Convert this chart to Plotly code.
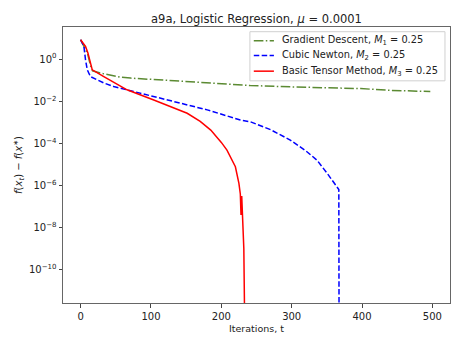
import plotly.graph_objects as go

# Gradient Descent
gd_t = [0, 5, 10, 14, 17, 30, 40, 57, 71, 114, 175, 241, 300, 398, 440, 497]
gd_f = [8.3, 4.0, 1.8, 0.5, 0.28, 0.21, 0.175, 0.138, 0.126, 0.102, 0.079, 0.056, 0.048, 0.040, 0.033, 0.029]

# Cubic Newton
cn_t = [0, 4.7, 7, 9.5, 14, 23.7, 33, 47, 66, 104, 139, 180, 227, 241, 270, 298, 320, 336, 350, 365, 367, 367.5]
cn_f = [8.3, 4.0, 0.93, 0.31, 0.148, 0.102, 0.074, 0.050, 0.035, 0.0166, 0.0085, 0.0039, 0.00129, 0.00107,
        4.5e-4, 1.45e-4, 4.5e-5, 1.6e-5, 4.0e-6, 8.5e-7, 6.5e-7, 1e-16]

# Basic Tensor Method
bt_t = [0, 3, 7, 10.4, 14.2, 16.6, 33, 66, 104, 139, 151.5, 170, 185, 200, 208, 220, 225, 227, 228, 229, 230, 231, 232, 233, 234]
bt_f = [8.3, 6.3, 4.0, 1.95, 0.65, 0.31, 0.148, 0.035, 0.0115, 0.0039, 0.0027, 0.00112, 4.3e-4, 1.12e-4,
        4.8e-5, 7.8e-6, 1.26e-6, 4.0e-7, 4.0e-8, 3.2e-7, 5.0e-8, 2.5e-8, 1e-9, 1e-12, 1e-16]

series_names = ["Gradient Descent, <i>M</i><sub>1</sub> = 0.25",
                "Cubic Newton, <i>M</i><sub>2</sub> = 0.25",
                "Basic Tensor Method, <i>M</i><sub>3</sub> = 0.25"]
series_colors = ["#5b8a32", "#0000ff", "#ff0000"]
series_dash = ["9.6px,2.4px,1.5px,2.4px", "5.5px,2.4px", "solid"]

ytick_vals = [1, 1e-2, 1e-4, 1e-6, 1e-8, 1e-10]
ytick_text = ["10<sup>0</sup>", "10<sup>−2</sup>", "10<sup>−4</sup>", "10<sup>−6</sup>", "10<sup>−8</sup>", "10<sup>−10</sup>"]
xtick_vals = [0, 100, 200, 300, 400, 500]

fig = go.Figure()
for (xs, ys), name, col, dash in zip([(gd_t, gd_f), (cn_t, cn_f), (bt_t, bt_f)], series_names, series_colors, series_dash):
    fig.add_trace(go.Scatter(x=xs, y=ys, mode="lines", name=name,
                             line=dict(color=col, width=1.5, dash=dash)))

font = "DejaVu Sans"

# custom legend (compact, matplotlib-like spacing)
shapes = [dict(type="rect", xref="paper", yref="paper", x0=0.483, x1=0.987, y0=0.805, y1=0.983,
               line=dict(color="#d0d0d0", width=1), fillcolor="rgba(255,255,255,0.85)", layer="above")]
annotations = []
rows_y = [0.950, 0.897, 0.840]
for ry, name, col, dash in zip(rows_y, series_names, series_colors, series_dash):
    shapes.append(dict(type="line", xref="paper", yref="paper", x0=0.493, x1=0.545, y0=ry, y1=ry,
                       line=dict(color=col, width=1.5, dash=dash), layer="above"))
    annotations.append(dict(xref="paper", yref="paper", x=0.562, y=ry, text=name, showarrow=False,
                            xanchor="left", yanchor="middle", font=dict(size=9.8, family=font, color="#222")))

fig.update_layout(
    width=460, height=345,
    margin=dict(l=63, r=10, t=27, b=42),
    plot_bgcolor="white", paper_bgcolor="white",
    font=dict(family=font, size=10, color="#222"),
    title=dict(text="a9a, Logistic Regression, <i>μ</i> = 0.0001", x=0.5, xref="paper",
               xanchor="center", y=0.944, yref="container", yanchor="middle",
               font=dict(size=11.5, family=font, color="#222")),
    showlegend=False,
    shapes=shapes,
    annotations=annotations,
)
fig.update_xaxes(range=[-25, 525], tickvals=xtick_vals, ticks="outside", ticklen=3.5, tickcolor="#444",
                 showline=True, linecolor="#666", linewidth=1, mirror=True, showgrid=False, zeroline=False,
                 title=dict(text="Iterations, t", font=dict(size=9.5), standoff=4),
                 tickfont=dict(size=10))
fig.update_yaxes(type="log", range=[-11.571, 1.524], tickvals=ytick_vals, ticktext=ytick_text,
                 ticks="outside", ticklen=3.5, tickcolor="#444",
                 showline=True, linecolor="#666", linewidth=1, mirror=True, showgrid=False, zeroline=False,
                 title=dict(text="<i>f</i>(<i>x</i><sub><i>t</i></sub>) − <i>f</i>(<i>x</i><sup>∗</sup>)",
                            font=dict(size=10), standoff=4),
                 tickfont=dict(size=10))

fig.write_html("out.html")
